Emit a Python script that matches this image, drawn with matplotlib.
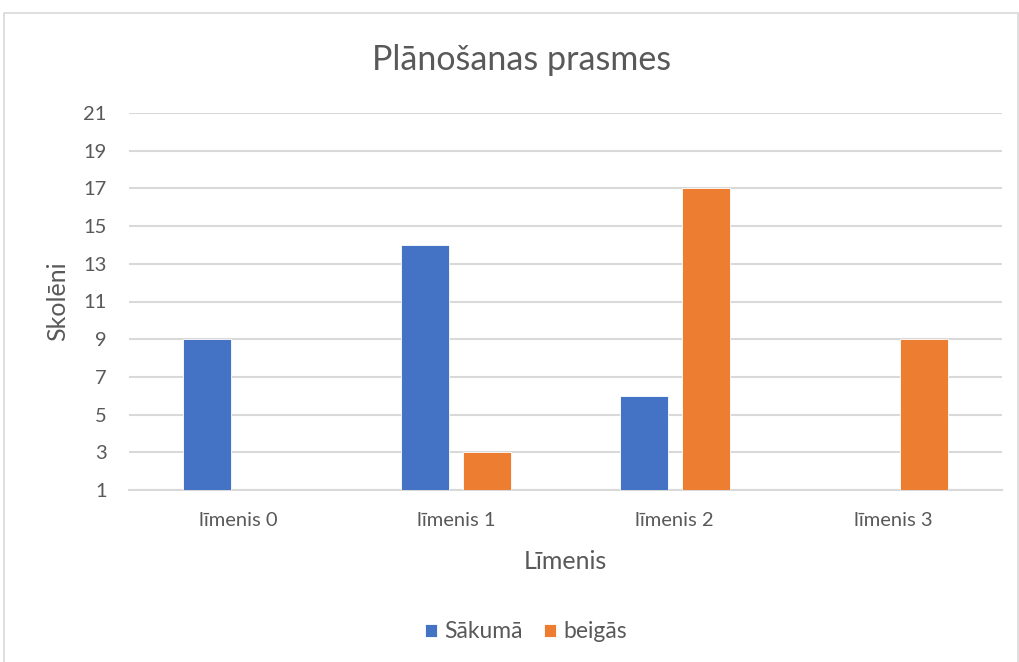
import matplotlib
matplotlib.use("Agg")
import matplotlib.pyplot as plt
import numpy as np
from matplotlib.patches import Rectangle

categories = ["līmenis 0", "līmenis 1", "līmenis 2", "līmenis 3"]
series_names = ["Sākumā", "beigās"]
sakuma = [9, 14, 6, 0]
beigas = [0, 3, 17, 9]
yticks = [1, 3, 5, 7, 9, 11, 13, 15, 17, 19, 21]

plt.rcParams['font.family'] = ['Lato', 'DejaVu Sans']
txt = '#595959'

fig = plt.figure(figsize=(10.19, 6.62), dpi=100)
# outer border
fig.patches.append(Rectangle((4/1019, -0.01), (1018-4)/1019, 1 - 13/662 + 0.01,
                             transform=fig.transFigure, fill=False,
                             edgecolor='#d9d9d9', linewidth=1.2))
ax = fig.add_axes([129/1019, 1 - 490/662, (1002-129)/1019, (490-113)/662])

x = np.arange(len(categories))
w = 0.22
off = 0.142
ax.bar(x - off, sakuma, w, color='#4472C4', edgecolor='white', linewidth=0.6, zorder=3, label=series_names[0])
ax.bar(x + off, beigas, w, color='#ED7D31', edgecolor='white', linewidth=0.6, zorder=3, label=series_names[1])

ax.set_xlim(-0.5, 3.5)
ax.set_ylim(1, 21)
ax.set_yticks(yticks)
ax.set_xticks(x)
ax.set_xticklabels(categories)
ax.grid(axis='y', color='#d9d9d9', linewidth=1.5, zorder=0)
for s in ['top', 'right', 'left']:
    ax.spines[s].set_visible(False)
ax.spines['bottom'].set_color('#d9d9d9')
ax.spines['bottom'].set_linewidth(1.5)
ax.tick_params(axis='both', length=0, labelsize=14.5, colors=txt)
ax.tick_params(axis='y', pad=16)
ax.tick_params(axis='x', pad=16)

ax.set_ylabel("Skolēni", fontsize=18, color=txt, labelpad=10)
ax.set_xlabel("Līmenis", fontsize=18, color=txt, labelpad=15)
fig.text(522/1019, 1 - 60/662, "Plānošanas prasmes", fontsize=24.5, color=txt,
         ha='center', va='center')

leg = fig.legend(loc='center', bbox_to_anchor=(526/1019, 1 - 632/662), ncol=2,
                 frameon=False, fontsize=16.5, handlelength=0.52, handleheight=0.52,
                 handletextpad=0.35, columnspacing=0.9)
for t in leg.get_texts():
    t.set_color(txt)

fig.savefig("out.png", dpi=100, facecolor='white')
